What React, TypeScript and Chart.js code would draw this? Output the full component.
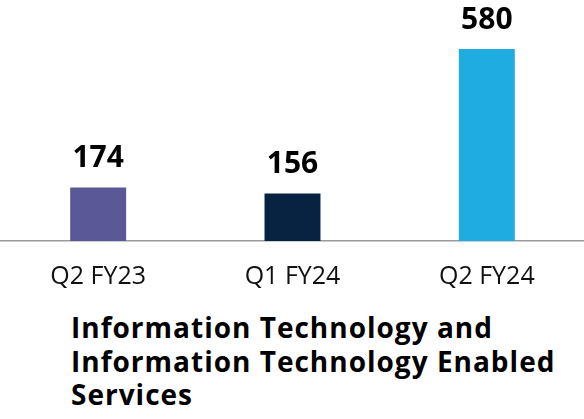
import React, { useEffect, useRef } from "react";
import { Chart, registerables } from "chart.js";

Chart.register(...registerables);

const categories = ["Q2 FY23", "Q1 FY24", "Q2 FY24"];
const values = [174, 156, 580];
const barColors = ["#5B5897", "#082241", "#1FACE1"];
const titleLines = [
  "Information Technology and",
  "Information Technology Enabled",
  "Services",
];

const FONT = "'Open Sans', 'Noto Sans', sans-serif";

const valueLabels = {
  id: "valueLabels",
  afterDatasetsDraw(chart: any) {
    const ctx = chart.ctx;
    const meta = chart.getDatasetMeta(0);
    ctx.save();
    ctx.font = `bold 30px ${FONT}`;
    ctx.fillStyle = "#000000";
    ctx.textAlign = "center";
    ctx.textBaseline = "alphabetic";
    meta.data.forEach((bar: any, i: number) => {
      ctx.fillText(String(chart.data.datasets[0].data[i]), bar.x, bar.y - 20.5);
    });
    ctx.restore();
  },
};

export default function App() {
  const ref = useRef<HTMLCanvasElement | null>(null);

  useEffect(() => {
    document.body.style.margin = "0";
    const chart = new Chart(ref.current as HTMLCanvasElement, {
      type: "bar",
      data: {
        labels: categories,
        datasets: [
          {
            data: values,
            backgroundColor: barColors,
            borderWidth: 0,
            barPercentage: 1,
            categoryPercentage: 0.288,
          },
        ],
      },
      plugins: [valueLabels],
      options: {
        animation: false,
        responsive: false,
        maintainAspectRatio: false,
        layout: { padding: { top: 49, left: 1, right: 0, bottom: 0 } },
        plugins: {
          legend: { display: false },
          tooltip: { enabled: false },
          title: { display: false },
        },
        scales: {
          x: {
            grid: { display: false },
            border: { display: true, color: "#9a9a9a", width: 1.5 },
            ticks: {
              color: "#111111",
              font: { family: FONT, size: 25 },
              padding: 13,
              maxRotation: 0,
            },
            afterFit: (s: any) => {
              s.height = 60;
            },
          },
          y: {
            display: false,
            min: 17,
            max: 580,
          },
        },
      },
    });
    return () => chart.destroy();
  }, []);

  return (
    <div style={{ position: "relative", width: 584, height: 419, background: "#fff", overflow: "hidden" }}>
      <canvas ref={ref} width={584} height={301} style={{ position: "absolute", left: 0, top: 0, width: 584, height: 301 }} />
      <div
        style={{
          position: "absolute",
          left: 71,
          top: 311,
          fontFamily: FONT,
          fontWeight: 700,
          fontSize: 28,
          letterSpacing: "1px",
          lineHeight: "33.5px",
          color: "#000",
          whiteSpace: "nowrap",
        }}
      >
        {titleLines.map((t, i) => (
          <div key={i}>{t}</div>
        ))}
      </div>
    </div>
  );
}
